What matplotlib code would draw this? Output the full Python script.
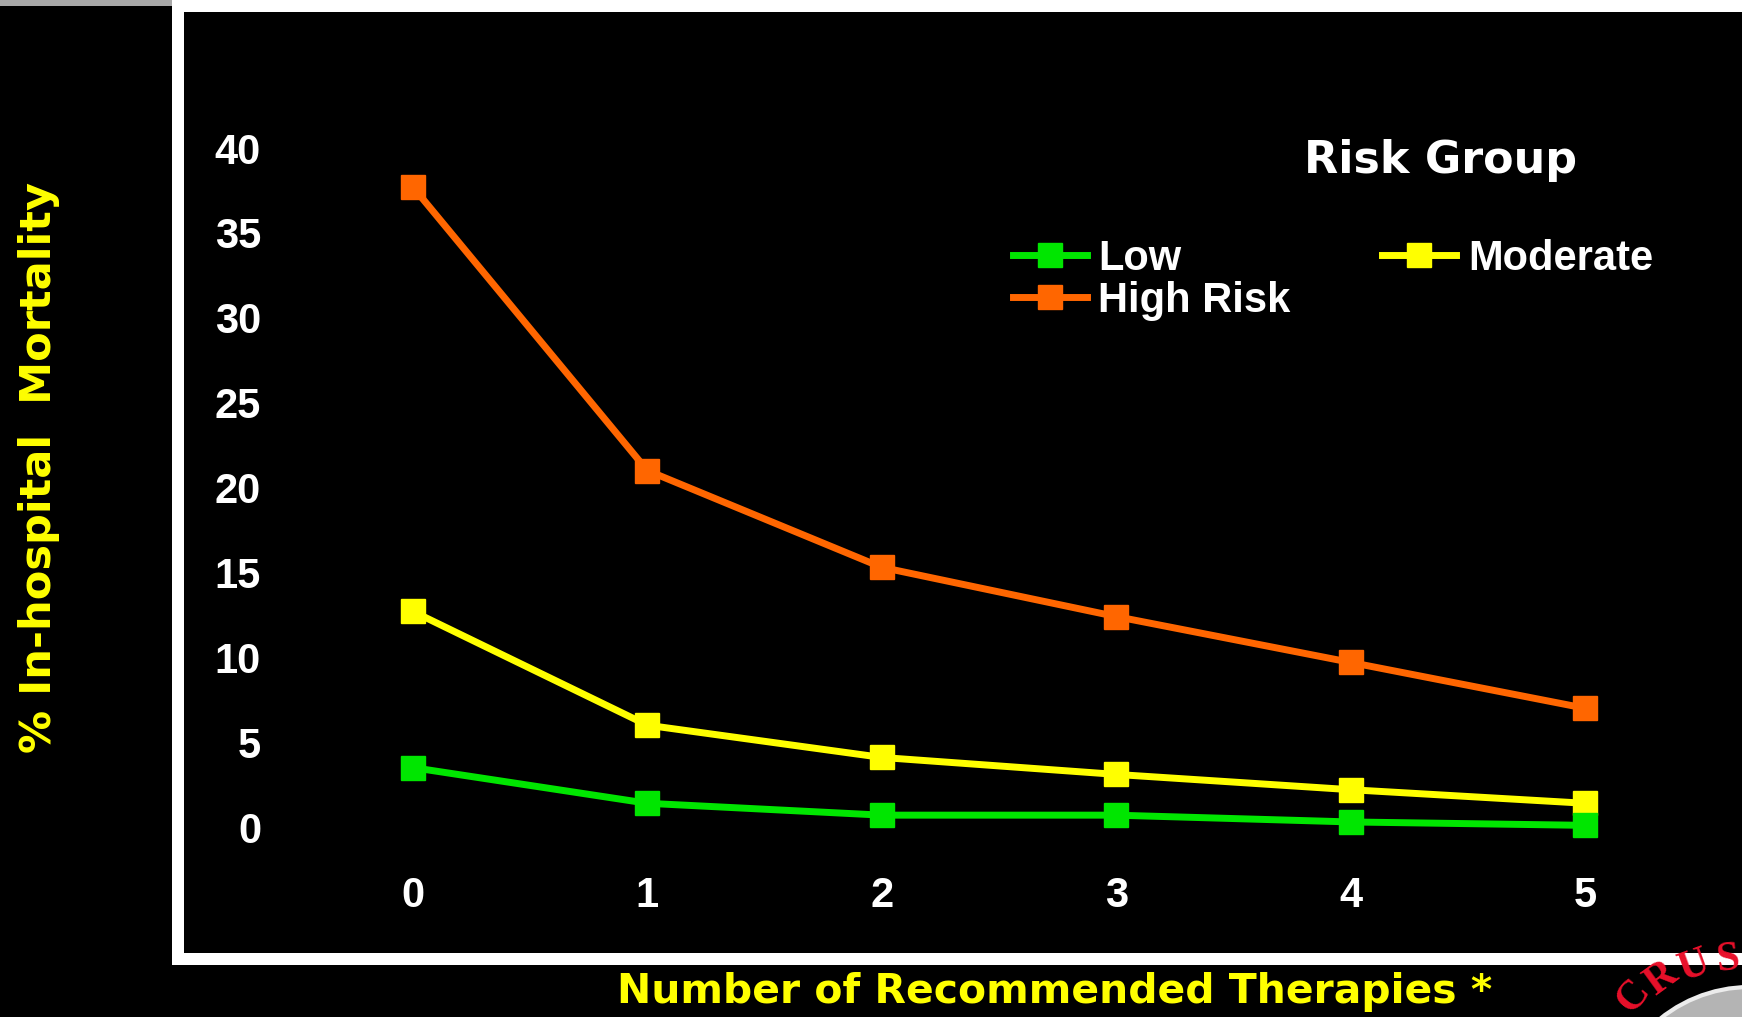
import matplotlib
matplotlib.use('Agg')
import matplotlib.pyplot as plt
from matplotlib.patches import Rectangle, Ellipse

# ---------------- data ----------------
therapies = [0, 1, 2, 3, 4, 5]
low = [3.5, 1.4, 0.7, 0.7, 0.3, 0.1]
moderate = [12.7, 6.0, 4.1, 3.1, 2.2, 1.4]
high = [37.7, 21.0, 15.3, 12.4, 9.7, 7.0]
yticks = [0, 5, 10, 15, 20, 25, 30, 35, 40]
xticks = [0, 1, 2, 3, 4, 5]
label_low, label_mod, label_high = 'Low', 'Moderate', 'High Risk'
legend_title = 'Risk Group'
ylabel = '% In-hospital  Mortality'
xlabel = 'Number of Recommended Therapies *'

# ---------------- style ----------------
W, H = 1742, 1017
C_LOW, C_MOD, C_HIGH = '#00e600', '#ffff00', '#ff6600'
YELLOW = '#ffff00'
COMIC = dict(family='DejaVu Sans', weight='bold')

fig = plt.figure(figsize=(W / 100, H / 100), dpi=100, facecolor='black')


def fx(x):
    return x / W


def fy(y):
    return 1 - y / H


# white panel frame and grey strip
fig.add_artist(Rectangle((fx(178), fy(959)), fx(W + 100 - 178), (959 - 6) / H,
                         transform=fig.transFigure, facecolor='black',
                         edgecolor='white', linewidth=12 * 0.72, zorder=-5))
fig.add_artist(Rectangle((0, fy(6)), fx(172), 6 / H, transform=fig.transFigure,
                         facecolor='#a8a8a8', edgecolor='none', zorder=-4))

# axes: x=0 at 413px, 5 at 1585px ; y=0 at 827px, 40 at 148px
ax = fig.add_axes([0.1698, 0.1534, 0.8073, 0.8012])
ax.set_facecolor('none')
ax.set_xlim(-0.5, 5.5)
ax.set_ylim(-2, 46)
for s in ax.spines.values():
    s.set_visible(False)

lw, ms = 5, 17
h_high, = ax.plot(therapies, high, color=C_HIGH, lw=lw, marker='s', ms=ms, label=label_high)
h_mod, = ax.plot(therapies, moderate, color=C_MOD, lw=lw, marker='s', ms=ms, label=label_mod)
h_low, = ax.plot(therapies, low, color=C_LOW, lw=lw, marker='s', ms=ms, label=label_low)

ax.set_yticks(yticks)
ax.set_xticks(xticks)
ax.tick_params(axis='both', length=0, labelcolor='white', labelsize=30)
ax.tick_params(axis='y', pad=25)
ax.tick_params(axis='x', pad=11)
for t in ax.get_xticklabels() + ax.get_yticklabels():
    t.set_fontfamily('Liberation Sans')
    t.set_fontweight('bold')

leg = ax.legend(handles=[h_low, h_high, h_mod], ncol=2, frameon=False,
                loc='upper left', bbox_to_anchor=(fx(1013), fy(239)),
                bbox_transform=fig.transFigure, borderpad=0, borderaxespad=0,
                handlelength=1.77, handletextpad=0.28, columnspacing=2.2,
                labelspacing=0.04,
                prop=dict(family='Liberation Sans', weight='bold', size=30))
for t in leg.get_texts():
    t.set_color('white')

t_title = fig.text(fx(1441), fy(161), legend_title, color='white', fontsize=30,
                   ha='center', va='center', **COMIC)
t_ylab = fig.text(fx(39), fy(467), ylabel, color=YELLOW, fontsize=26, rotation=90,
                  ha='center', va='center', **COMIC)
t_xlab = fig.text(fx(1055), fy(992), xlabel, color=YELLOW, fontsize=26,
                  ha='center', va='center', **COMIC)

# logo fragment in the corner
fig.add_artist(Ellipse((fx(1750), fy(1130)), 2 * 143 / W, 2 * 143 / H,
                       transform=fig.transFigure, facecolor='#b4b4b4',
                       edgecolor='#ececec', linewidth=3, zorder=3))
for ch, x, y, rot in [('C', 1634, 996, 50), ('R', 1662, 979, 36),
                      ('U', 1695, 966, 20), ('S', 1728, 960, 6)]:
    fig.text(fx(x), fy(y), ch, color='#e8102a', fontsize=30, family='Liberation Serif',
             weight='bold', rotation=rot, ha='center', va='center', zorder=4)

# fit comic-style texts to measured widths
fig.canvas.draw()
r = fig.canvas.get_renderer()
for t, target, horiz in [(t_title, 273, True), (t_ylab, 572, False), (t_xlab, 877, True)]:
    bb = t.get_window_extent(r)
    cur = bb.width if horiz else bb.height
    t.set_fontsize(t.get_fontsize() * target / cur)

fig.savefig('out.png', dpi=100, facecolor='black')
